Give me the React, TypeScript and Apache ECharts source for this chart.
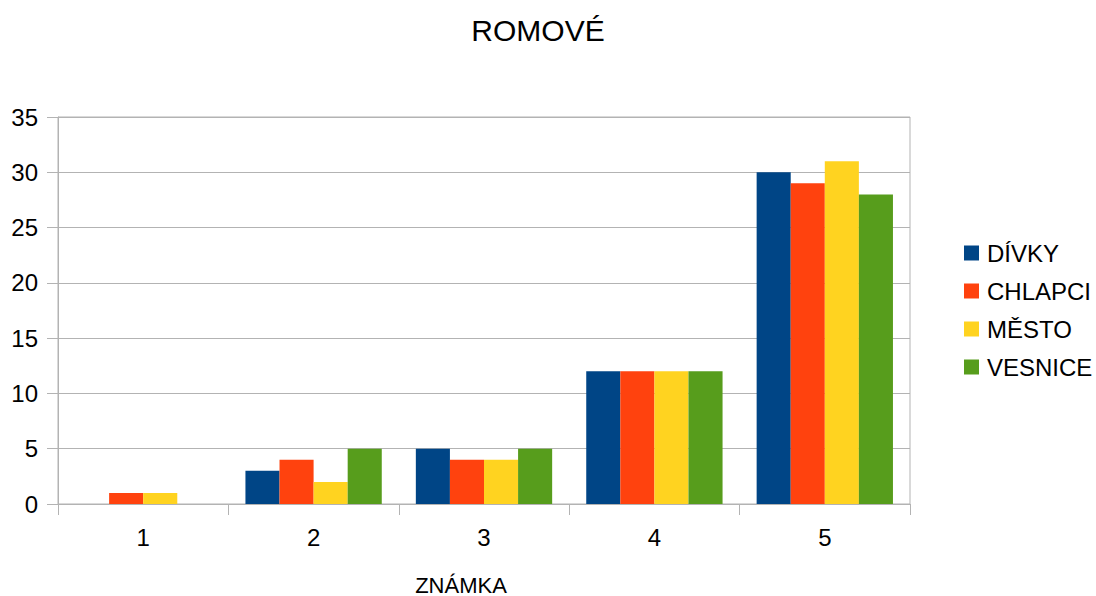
import React, { useEffect, useRef } from "react";
import * as echarts from "echarts";

const categories = ["1", "2", "3", "4", "5"];
const seriesNames = ["DÍVKY", "CHLAPCI", "MĚSTO", "VESNICE"];
const divky = [0, 3, 5, 12, 30];
const chlapci = [1, 4, 4, 12, 29];
const mesto = [1, 2, 4, 12, 31];
const vesnice = [0, 5, 5, 12, 28];
const colors = ["#004586", "#ff420e", "#ffd320", "#579d1c"];

const FONT = "'Liberation Sans', Arial, sans-serif";
const GRAY = "#b3b3b3";

export default function App() {
  const ref = useRef<HTMLDivElement>(null);
  useEffect(() => {
    if (!ref.current) return;
    const chart = echarts.init(ref.current, null, { renderer: "svg" });
    const values = [divky, chlapci, mesto, vesnice];
    chart.setOption({
      animation: false,
      backgroundColor: "#ffffff",
      textStyle: { fontFamily: FONT },
      title: {
        text: "ROMOVÉ",
        left: 538,
        textAlign: "center",
        top: 15,
        padding: 0,
        textStyle: { fontFamily: FONT, fontSize: 30, fontWeight: "normal", color: "#000" },
      },
      legend: {
        orient: "vertical",
        left: 964,
        top: 241,
        padding: 0,
        itemWidth: 15,
        itemHeight: 15,
        itemGap: 14,
        icon: "rect",
        data: seriesNames,
        textStyle: { fontFamily: FONT, fontSize: 24, color: "#000", padding: [0, 0, 0, 3] },
      },
      grid: {
        left: 58,
        right: 186,
        top: 117,
        bottom: 92,
        containLabel: false,
        outerBoundsMode: "none",
        show: true,
        borderColor: GRAY,
        borderWidth: 1,
      },
      xAxis: {
        type: "category",
        data: categories,
        name: "ZNÁMKA",
        nameLocation: "middle",
        nameGap: 70,
        nameTextStyle: { fontFamily: FONT, fontSize: 22, color: "#000", padding: [0, 46, 0, 0] },
        axisLine: { show: true, lineStyle: { color: GRAY } },
        axisTick: { show: true, length: 11, lineStyle: { color: GRAY } },
        axisLabel: { fontFamily: FONT, fontSize: 24, color: "#000", margin: 21 },
      },
      yAxis: {
        type: "value",
        min: 0,
        max: 35,
        interval: 5,
        axisLine: { show: true, lineStyle: { color: GRAY } },
        axisTick: { show: true, length: 11, lineStyle: { color: GRAY } },
        axisLabel: { fontFamily: FONT, fontSize: 24, color: "#000", margin: 20 },
        splitLine: { show: true, lineStyle: { color: GRAY } },
      },
      series: seriesNames.map((name, i) => ({
        name,
        type: "bar",
        data: values[i],
        barGap: "0%",
        barCategoryGap: "20%",
        itemStyle: { color: colors[i] },
      })),
    });
    return () => chart.dispose();
  }, []);
  return (
    <div
      ref={ref}
      style={{ position: "fixed", left: 0, top: 0, width: 1096, height: 596 }}
    />
  );
}
